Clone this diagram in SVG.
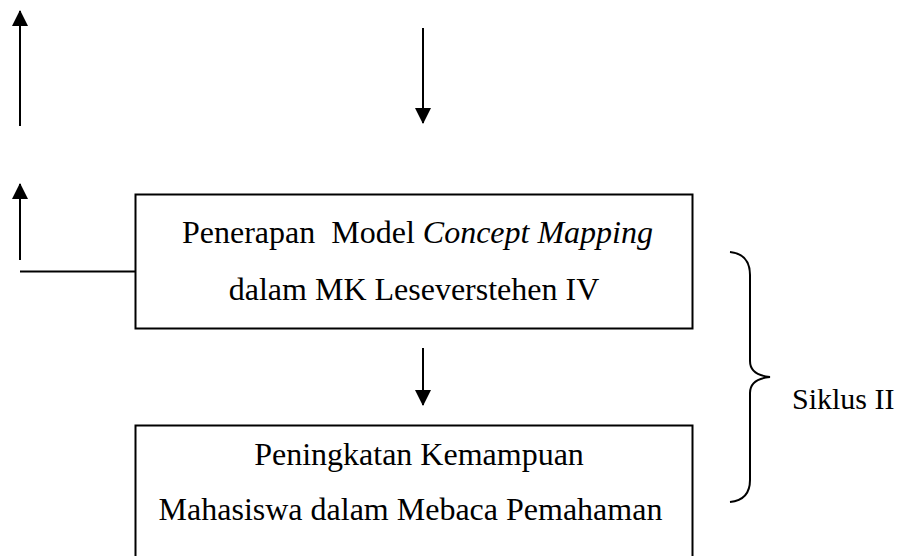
<svg xmlns="http://www.w3.org/2000/svg" width="903" height="556" viewBox="0 0 903 556">
<style>
.t{font-family:"Liberation Serif","Times New Roman",serif;font-size:32px;fill:#000;white-space:pre}
.s{font-size:30px}
.box{fill:#fff;stroke:#000;stroke-width:2}
.ln{fill:none;stroke:#000;stroke-width:2}
</style>
<defs>
<marker id="ah" markerWidth="16" markerHeight="16" viewBox="0 0 16 16" refX="15" refY="8" orient="auto" markerUnits="userSpaceOnUse">
<path d="M0,0 L16,8 L0,16 Z" fill="#000"/>
</marker>
</defs>
<g id="connectors">
<line class="ln" x1="20" y1="126" x2="20" y2="11" marker-end="url(#ah)"/>
<line class="ln" x1="20" y1="260" x2="20" y2="184" marker-end="url(#ah)"/>
<line class="ln" x1="20" y1="271.5" x2="135" y2="271.5"/>
<line class="ln" x1="423" y1="28" x2="423" y2="123" marker-end="url(#ah)"/>
<line class="ln" x1="423" y1="348" x2="423" y2="405" marker-end="url(#ah)"/>
</g>
<g id="box1">
<rect class="box" x="135.5" y="194.5" width="557" height="134"/>
<text class="t" x="417.5" y="243" text-anchor="middle" xml:space="preserve">Penerapan  Model <tspan font-style="italic">Concept Mapping</tspan></text>
<text class="t" x="414" y="300" text-anchor="middle">dalam MK Leseverstehen IV</text>
</g>
<g id="box2">
<rect class="box" x="135.5" y="425.5" width="557" height="140"/>
<text class="t" x="419" y="465" text-anchor="middle">Peningkatan Kemampuan</text>
<text class="t" x="410.5" y="520" text-anchor="middle">Mahasiswa dalam Mebaca Pemahaman</text>
</g>
<g id="brace">
<path class="ln" d="M730,252 Q750,254 750,275 L750,361 Q750,375 770,377 Q750,379 750,393 L750,480 Q750,500 730,502"/>
<text class="t s" x="792" y="409">Siklus II</text>
</g>
</svg>
